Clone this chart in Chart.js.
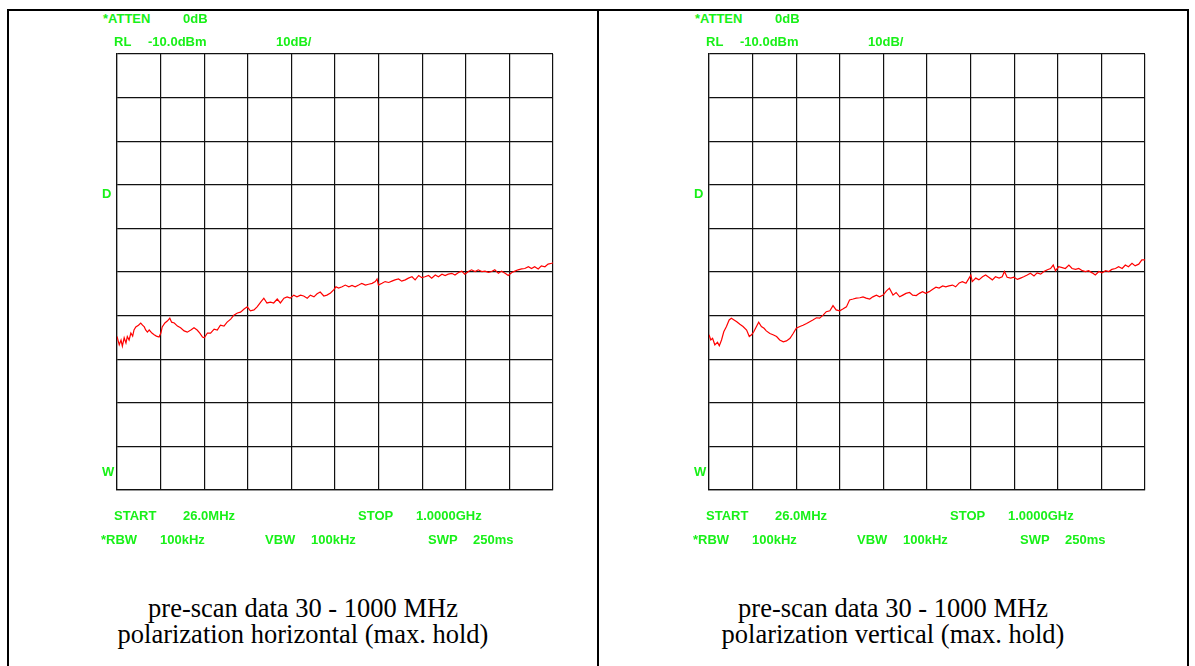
<!DOCTYPE html>
<html>
<head>
<meta charset="utf-8">
<script src="https://cdn.jsdelivr.net/npm/chart.js@4.4.1/dist/chart.umd.min.js"></script>
<style>
  html,body{margin:0;padding:0;background:#fff;}
  body{width:1195px;height:666px;position:relative;overflow:hidden;}
  .rule{position:absolute;background:#000;}
  .lbl{position:absolute;white-space:nowrap;font:bold 13px "Liberation Sans",Arial,sans-serif;line-height:13px;color:#18f018;}
  .cap{position:absolute;text-align:center;font:26.5px "Liberation Serif","Times New Roman",serif;line-height:25.5px;color:#000;}
  canvas{position:absolute;}
</style>
</head>
<body>
<div class="rule" style="left:7px;top:9px;width:1182px;height:2px"></div>
<div class="rule" style="left:7px;top:9px;width:2px;height:657px"></div>
<div class="rule" style="left:597px;top:9px;width:2px;height:657px"></div>
<div class="rule" style="left:1187px;top:9px;width:2px;height:657px"></div>

<div id="panelH" style="position:absolute;left:0;top:0;width:597px;height:666px">
  <canvas id="chartH" width="456" height="456" style="left:107px;top:44px"></canvas>
</div>
<div id="panelV" style="position:absolute;left:592px;top:0;width:597px;height:666px">
  <canvas id="chartV" width="456" height="456" style="left:107px;top:44px"></canvas>
</div>
<div class="cap" style="left:9px;top:596px;width:588px">pre-scan data 30 - 1000 MHz<br>polarization horizontal (max. hold)</div>
<div class="cap" style="left:599px;top:596px;width:588px">pre-scan data 30 - 1000 MHz<br>polarization vertical (max. hold)</div>

<script>
// analyzer settings (same for both sweeps)
const F_START = 26, F_STOP = 1000;      // MHz
const REF_LEVEL = -10, DB_PER_DIV = 10; // dBm, dB/div
const DIVS = 10;

// horizontal polarization, max hold (MHz / dBm)
const hFreq = [26,31,35,38,42,46,49,53,57,61,
  64,68,74,79,83,87,90,94,98,104,
  109,114,120,124,127,133,139,144,148,154,
  161,168,176,183,191,198,205,211,217,221,
  228,235,243,250,257,265,272,280,287,295,
  302,310,317,324,332,339,347,354,361,369,
  376,384,391,399,406,413,421,428,436,443,
  451,458,466,473,480,488,495,503,510,515,
  521,529,536,544,551,558,566,573,581,588,
  596,603,607,610,618,625,633,640,647,655,
  662,670,677,685,692,700,707,714,722,729,
  737,744,752,759,766,774,781,789,796,803,
  811,818,826,833,841,848,856,863,870,878,
  885,893,900,908,915,922,930,937,945,952,
  959,967,974,982,989,997,1000];
const hLevel = [-74.8,-76.7,-75.6,-77.0,-75.1,-76.3,-74.8,-75.6,-74.0,-74.7,
  -73.3,-72.6,-72.2,-71.7,-72.2,-72.6,-73.3,-73.8,-73.3,-74.0,
  -74.4,-74.7,-74.9,-74.0,-72.6,-71.7,-71.2,-70.6,-71.5,-71.7,
  -72.4,-72.8,-73.5,-73.8,-73.3,-72.8,-73.3,-74.0,-74.9,-75.1,
  -74.0,-74.0,-73.1,-73.3,-72.2,-72.4,-71.5,-70.8,-69.9,-69.4,
  -69.2,-68.5,-68.0,-68.9,-68.7,-68.0,-66.9,-66.0,-67.1,-66.9,
  -67.1,-66.2,-67.1,-66.0,-65.7,-66.0,-65.3,-65.7,-65.3,-65.5,
  -66.0,-65.3,-65.7,-65.0,-64.6,-65.5,-65.3,-64.8,-64.1,-63.4,
  -63.7,-63.4,-63.0,-63.4,-63.1,-63.4,-63.0,-62.6,-63.0,-62.8,
  -62.6,-62.2,-61.6,-63.0,-62.6,-62.2,-62.4,-62.1,-61.8,-61.6,
  -62.1,-61.8,-61.4,-61.1,-61.8,-60.8,-61.3,-61.1,-60.8,-61.4,
  -60.7,-61.1,-60.5,-60.8,-60.5,-60.3,-60.7,-60.1,-59.8,-60.5,
  -59.9,-59.5,-59.9,-59.5,-59.9,-59.8,-60.1,-59.9,-59.5,-60.3,
  -59.8,-60.3,-60.8,-60.1,-59.8,-59.5,-59.3,-59.2,-58.8,-59.2,
  -58.8,-59.3,-58.6,-58.8,-58.2,-58.0,-57.9];

// vertical polarization, max hold
const vFreq = [26,30,34,39,45,49,54,59,65,71,
  76,82,88,95,102,110,116,121,126,132,
  137,143,149,154,162,169,177,184,192,199,
  207,214,221,229,236,244,251,258,266,273,
  281,288,296,303,310,318,325,333,340,348,
  355,363,370,377,385,392,400,407,415,422,
  429,437,444,452,459,466,474,481,489,496,
  503,510,518,525,533,540,548,555,562,570,
  577,585,592,600,607,611,614,622,629,637,
  644,651,659,666,674,681,686,692,700,707,
  715,722,729,737,744,752,759,767,774,782,
  789,795,800,807,815,822,830,837,845,852,
  860,867,874,882,889,897,904,912,919,926,
  934,941,949,956,963,971,978,986,993,1000];
const vLevel = [-74.4,-75.6,-75.2,-76.7,-76.1,-76.9,-75.6,-73.7,-72.5,-71.0,
  -70.6,-71.0,-71.4,-72.0,-72.5,-73.3,-74.8,-74.4,-73.7,-72.5,
  -71.5,-72.5,-72.9,-73.5,-74.1,-74.4,-74.8,-75.6,-76.0,-75.8,
  -75.2,-74.1,-72.9,-72.5,-72.2,-71.8,-71.4,-71.0,-70.5,-70.6,
  -69.9,-69.1,-68.9,-67.7,-68.7,-68.9,-68.5,-68.0,-66.4,-66.2,
  -66.0,-65.9,-65.7,-66.0,-66.2,-65.7,-65.3,-65.7,-65.3,-64.4,
  -63.7,-65.3,-64.7,-65.7,-65.3,-64.9,-64.7,-65.3,-65.4,-64.9,
  -64.5,-64.9,-64.5,-64.0,-63.5,-63.7,-63.2,-63.4,-63.2,-63.0,
  -63.4,-62.5,-62.2,-62.6,-61.4,-60.7,-62.2,-61.4,-61.8,-61.1,
  -60.7,-61.2,-61.8,-61.1,-61.4,-61.1,-59.9,-61.2,-61.4,-61.2,
  -61.7,-61.4,-61.1,-60.7,-60.3,-60.9,-60.2,-60.5,-59.9,-59.5,
  -59.2,-58.4,-59.7,-58.8,-59.0,-59.2,-58.4,-59.2,-59.4,-59.2,
  -59.7,-59.9,-59.7,-60.2,-60.7,-59.9,-60.2,-59.7,-59.9,-59.4,
  -59.2,-58.8,-59.2,-58.4,-58.8,-58.0,-58.6,-58.2,-57.2,-57.2];

// screen annotations of the analyzer plot: text, left, vertical centre
const annotations = [
  ['*ATTEN',103,18.5],['0dB',183,18.5],
  ['RL',114,41.5],['-10.0dBm',148,41.5],['10dB/',276,41.5],
  ['D',102,193],['W',102,471],
  ['START',114,515.5],['26.0MHz',183,515.5],['STOP',358,515.5],['1.0000GHz',416,515.5],
  ['*RBW',101,539],['100kHz',160,539],['VBW',265,539],['100kHz',311,539],['SWP',428,539],['250ms',473,539]
];

function addLabels(panelId){
  const p=document.getElementById(panelId);
  for(const [t,x,y] of annotations){
    const s=document.createElement('span');
    s.className='lbl';s.textContent=t;
    s.style.left=x+'px';s.style.top=(y-6.3)+'px';
    p.appendChild(s);
  }
}

function makeTrace(canvasId, freqs, levels){
  const el=document.getElementById(canvasId);
  const step=(F_STOP-F_START)/DIVS;
  const gridOpts={color:'#111',lineWidth:1.2,drawTicks:false};
  return new Chart(el.getContext('2d'),{
    type:'line',
    data:{datasets:[{data:freqs.map((f,i)=>({x:f,y:levels[i]})),borderColor:'#ff0000',borderWidth:1.2,
      pointRadius:0,tension:0,fill:false}]},
    options:{
      responsive:false,animation:false,events:[],
      layout:{padding:10},
      plugins:{legend:{display:false},tooltip:{enabled:false}},
      scales:{
        x:{type:'linear',min:F_START,max:F_STOP,
          afterBuildTicks:s=>{s.ticks=Array.from({length:DIVS+1},(_,i)=>({value:F_START+i*step}));},
          ticks:{display:false},grid:gridOpts,border:{color:'#111',width:1.2}},
        y:{min:REF_LEVEL-DIVS*DB_PER_DIV,max:REF_LEVEL,
          ticks:{display:false,stepSize:DB_PER_DIV},grid:gridOpts,border:{color:'#111',width:1.2}}
      }
    }
  });
}

addLabels('panelH');
addLabels('panelV');
makeTrace('chartH',hFreq,hLevel);
makeTrace('chartV',vFreq,vLevel);
</script>
</body>
</html>
